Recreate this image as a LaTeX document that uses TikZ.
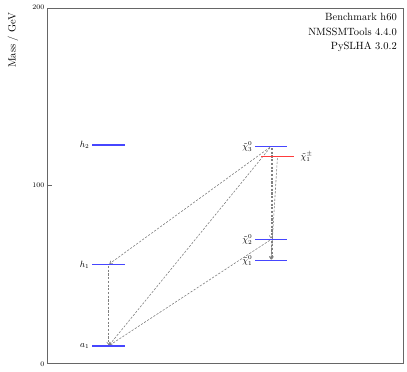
\documentclass[tikz,border=0pt]{standalone}
\usetikzlibrary{arrows.meta}
\definecolor{lvlblue}{RGB}{70,70,255}
\definecolor{lvlred}{RGB}{255,60,60}
\begin{document}
\begin{tikzpicture}[x=1pt,y=-1pt,
  frame/.style={draw=black!60, line width=0.8pt},
  lvl/.style={line width=1.2pt},
  neu/.style={lvl, draw=lvlblue},
  chg/.style={lvl, draw=lvlred},
  decay/.style={draw=black!50, dash pattern=on 2.2pt off 1.5pt, line width=0.6pt,
    -{Straight Barb[length=2.5pt,width=3.5pt]}, shorten >=1pt, shorten <=1.5pt},
  lab/.style={font=\small, inner sep=2.5pt},
  ticklab/.style={font=\scriptsize, inner sep=2.5pt, anchor=east},
  info/.style={font=\fontsize{10.5}{12}\selectfont, anchor=east, inner sep=0pt}]
\useasboundingbox (0,0) rectangle (407,372);
\draw[frame] (47,8) rectangle (403,363);
% ticks
\draw[frame, line width=0.6pt] (47,8) -- (52,8);
\draw[frame, line width=0.6pt] (47,185.5) -- (52,185.5);
\node[ticklab] (t200) at (47,7) {200};
\node[ticklab] (t100) at (47,185.5) {100};
\node[ticklab] (t0) at (47,364) {0};
\node[rotate=90, font=\fontsize{10.5}{12}\selectfont] (ylab) at (13,40) {Mass / GeV};
% info
\node[info] (i1) at (397,17) {Benchmark h60};
\node[info] (i2) at (397,32) {NMSSMTools 4.4.0};
\node[info] (i3) at (397,47) {PySLHA 3.0.2};
% levels: Higgs
\coordinate (h2l) at (92,145); \coordinate (h2r) at (125,145); \coordinate (h2) at (108.5,145);
\coordinate (h1l) at (92,264.5); \coordinate (h1r) at (125,264.5); \coordinate (h1) at (108.5,264.5);
\coordinate (a1l) at (92,346); \coordinate (a1r) at (125,346); \coordinate (a1) at (108.5,346);
% neutralinos / chargino
\coordinate (n3l) at (255,146.5); \coordinate (n3r) at (287,146.5); \coordinate (n3) at (271,146.5);
\coordinate (c1l) at (261,156.5); \coordinate (c1r) at (294,156.5); \coordinate (c1) at (277.5,156.5);
\coordinate (n2l) at (255,239.5); \coordinate (n2r) at (287,239.5); \coordinate (n2) at (271,239.5);
\coordinate (n1l) at (255,260.5); \coordinate (n1r) at (287,260.5); \coordinate (n1) at (271,260.5);
% decays
\draw[decay] (h1) -- (a1);
\draw[decay] (n3) -- (h1);
\draw[decay] (n3) -- (a1);
\draw[decay] (n3) -- (n2);
\draw[decay] ([xshift=0.8pt]n3) -- ([xshift=0.8pt]n1);
\draw[decay] (c1) -- (n1);
\draw[decay] (n2) -- (n1);
\draw[decay] (n2) -- (a1);
% level lines
\draw[neu] (h2l) -- (h2r);
\draw[neu] (h1l) -- (h1r);
\draw[neu] (a1l) -- (a1r);
\draw[neu] (n3l) -- (n3r);
\draw[chg] (c1l) -- (c1r);
\draw[neu] (n2l) -- (n2r);
\draw[neu] (n1l) -- (n1r);
% labels
\node[lab, anchor=east] (lh2) at (h2l) {$h_2$};
\node[lab, anchor=east] (lh1) at (h1l) {$h_1$};
\node[lab, anchor=east] (la1) at (a1l) {$a_1$};
\node[lab, anchor=east] (ln3) at (n3l) {$\tilde{\chi}_3^0$};
\node[lab, anchor=west] (lc1) at ([xshift=4pt]c1r) {$\tilde{\chi}_1^\pm$};
\node[lab, anchor=east] (ln2) at (n2l) {$\tilde{\chi}_2^0$};
\node[lab, anchor=east] (ln1) at (n1l) {$\tilde{\chi}_1^0$};
\end{tikzpicture}
\end{document}
